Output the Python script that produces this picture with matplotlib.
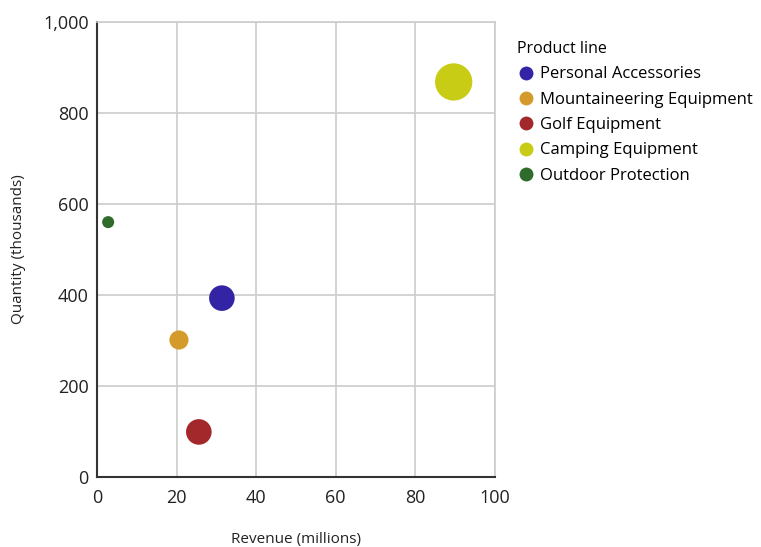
"""
Bubble chart of revenue against quantity by product line
"""

import matplotlib
matplotlib.use('Agg')
import matplotlib.pyplot as plt
from matplotlib.lines import Line2D
from matplotlib.ticker import FuncFormatter

# ---------------------------------------------------------------------------- #
# Data
# ---------------------------------------------------------------------------- #
product_lines = ['Personal Accessories', 'Mountaineering Equipment',
                 'Golf Equipment', 'Camping Equipment', 'Outdoor Protection']
revenue = [31.4, 20.6, 25.6, 89.7, 2.8]        # millions
quantity = [393, 301, 99, 868, 560]            # thousands
bubble_value = [340, 190, 340, 720, 75]        # relative bubble size
colours = ['#3324a6', '#d49a2c', '#a3282c', '#c8cc14', '#2f6b2a']

# ---------------------------------------------------------------------------- #
# Plot
# ---------------------------------------------------------------------------- #
plt.rcParams['font.family'] = ['Open Sans', 'DejaVu Sans']

fig = plt.figure(figsize=(7.61, 5.47), dpi=100)
ax = fig.add_axes([0.1275, 0.128, 0.5225, 0.832])

ax.scatter(revenue, quantity, s=bubble_value, c=colours, zorder=3,
           linewidths=0)

ax.set_xlim(0, 100)
ax.set_ylim(0, 1000)
ax.set_xticks(range(0, 101, 20))
ax.set_yticks(range(0, 1001, 200))
ax.yaxis.set_major_formatter(FuncFormatter(lambda v, p: f'{int(v):,}'))
ax.tick_params(length=0, labelsize=13, colors='#222222')
ax.tick_params(axis='x', pad=9)
ax.tick_params(axis='y', pad=6)
ax.grid(color='#cccccc', linewidth=1.2)
ax.set_axisbelow(True)

for side in ['top', 'right']:
    ax.spines[side].set_color('#cccccc')
    ax.spines[side].set_linewidth(1.2)
for side in ['left', 'bottom']:
    ax.spines[side].set_color('#333333')
    ax.spines[side].set_linewidth(1.5)

ax.set_xlabel('Revenue (millions)', fontsize=11, color='#222222', labelpad=18)
ax.set_ylabel('Quantity (thousands)', fontsize=11, color='#222222', labelpad=12)

handles = [Line2D([], [], marker='o', linestyle='', markersize=10,
                  markerfacecolor=c, markeredgewidth=0) for c in colours]
leg = fig.legend(handles, product_lines, title='Product line',
                 loc='upper left', bbox_to_anchor=(0.671, 0.937),
                 frameon=False, fontsize=12, title_fontsize=11.5,
                 handletextpad=0.35, labelspacing=0.56, handlelength=1.0,
                 borderaxespad=0)
leg._legend_box.align = 'left'

fig.savefig('out.png', dpi=100)
plt.close()
